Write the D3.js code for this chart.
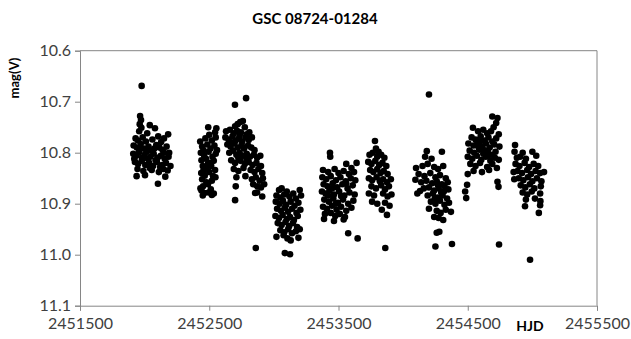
<!DOCTYPE html>
<html><head><meta charset="utf-8">
<script src="https://cdn.jsdelivr.net/npm/d3@7/dist/d3.min.js"></script>
<style>body{margin:0;background:#fff}svg{display:block}text{font-family:Lato,"Open Sans",sans-serif}</style>
</head><body>
<script>
const title = "GSC 08724-01284";
const xLabel = "HJD";
const yLabel = "mag(V)";
const xTicks = [2451500, 2452500, 2453500, 2454500, 2455500];
const yTicks = [10.6, 10.7, 10.8, 10.9, 11.0, 11.1];

const season1 = [[2451977,10.669],[2451965,10.728],[2451972,10.736],[2451962,10.744],[2451975,10.751],[2451958,10.758],
[2452040,10.746],[2452080,10.752],[2452182,10.764],[2452020,10.762],[2452105,10.768],
[2451930,10.772],[2451948,10.776],[2451985,10.770],[2452010,10.778],[2452060,10.774],[2452128,10.779],[2452150,10.772],
[2451915,10.786],[2451940,10.790],[2451970,10.783],[2451995,10.792],[2452030,10.788],[2452050,10.796],[2452090,10.785],[2452115,10.790],[2452140,10.795],[2452170,10.788],[2452190,10.800],
[2451912,10.802],[2451935,10.806],[2451955,10.800],[2451980,10.810],[2452000,10.804],[2452025,10.812],[2452045,10.808],[2452070,10.802],[2452100,10.810],[2452125,10.806],[2452155,10.812],[2452185,10.808],
[2451925,10.818],[2451950,10.822],[2451978,10.816],[2452005,10.824],[2452035,10.820],[2452065,10.826],[2452095,10.818],[2452135,10.824],[2452165,10.820],[2452200,10.826],
[2451945,10.832],[2451990,10.836],[2452055,10.834],[2452110,10.838],[2452145,10.832],[2452178,10.835],
[2451938,10.846],[2452003,10.844],[2452160,10.847],[2452103,10.861],
[2451960,10.795],[2452015,10.798],[2452085,10.815],[2452120,10.828],[2452075,10.792],[2451920,10.812],[2452150,10.800],[2452040,10.830]];

const season2 = [[2452492,10.750],[2452555,10.752],[2452545,10.760],[2452500,10.765],
[2452430,10.778],[2452470,10.772],[2452520,10.776],[2452550,10.770],
[2452445,10.788],[2452485,10.784],[2452510,10.792],[2452540,10.786],[2452560,10.795],
[2452435,10.800],[2452460,10.805],[2452495,10.798],[2452525,10.808],[2452550,10.802],
[2452440,10.815],[2452475,10.812],[2452505,10.820],[2452535,10.816],
[2452450,10.826],[2452480,10.830],[2452515,10.826],[2452545,10.834],
[2452438,10.840],[2452465,10.845],[2452500,10.838],[2452530,10.846],
[2452445,10.852],[2452478,10.858],[2452520,10.855],[2452548,10.848],
[2452452,10.866],[2452490,10.862],[2452432,10.870],[2452512,10.872],
[2452440,10.874],[2452462,10.879],[2452495,10.878],[2452535,10.880],[2452450,10.884],[2452520,10.883],
[2452455,10.795],[2452490,10.822],[2452455,10.835]];

const season3 = [[2452699,10.706],[2452785,10.693],[2452860,10.987],
[2452740,10.740],[2452720,10.744],[2452760,10.738],[2452700,10.748],[2452775,10.750],
[2452630,10.758],[2452660,10.755],[2452690,10.762],[2452715,10.757],[2452745,10.760],[2452790,10.764],[2452810,10.760],
[2452625,10.770],[2452650,10.774],[2452680,10.768],[2452705,10.776],[2452730,10.772],[2452755,10.778],[2452780,10.770],[2452805,10.775],[2452830,10.770],
[2452640,10.784],[2452665,10.788],[2452695,10.782],[2452720,10.790],[2452750,10.785],[2452770,10.792],[2452800,10.786],[2452825,10.790],[2452850,10.795],
[2452655,10.800],[2452685,10.796],[2452710,10.804],[2452735,10.800],[2452762,10.806],[2452790,10.802],[2452815,10.808],[2452845,10.804],[2452870,10.810],[2452895,10.806],
[2452670,10.815],[2452700,10.820],[2452742,10.816],[2452775,10.822],[2452805,10.818],[2452835,10.824],[2452865,10.820],[2452900,10.826],
[2452690,10.832],[2452725,10.836],[2452765,10.830],[2452820,10.834],[2452850,10.838],[2452880,10.832],[2452910,10.840],
[2452710,10.848],[2452780,10.846],[2452830,10.852],[2452860,10.848],[2452890,10.855],[2452915,10.850],
[2452705,10.866],[2452840,10.862],[2452870,10.866],[2452900,10.868],[2452925,10.862],
[2452700,10.893],[2452855,10.879],[2452910,10.886],[2452870,10.878],
[2452735,10.766],[2452765,10.790],[2452725,10.810],[2452680,10.780],[2452790,10.812]];

const season4 = [[2453040,10.873],[2453060,10.870],[2453100,10.876],[2453200,10.873],[2453150,10.880],
[2453020,10.884],[2453050,10.888],[2453080,10.882],[2453120,10.886],[2453170,10.890],[2453210,10.884],
[2453015,10.896],[2453045,10.900],[2453070,10.894],[2453095,10.902],[2453130,10.896],[2453160,10.904],[2453190,10.898],
[2453025,10.910],[2453055,10.914],[2453085,10.908],[2453110,10.916],[2453140,10.910],[2453175,10.918],[2453205,10.912],
[2453012,10.924],[2453040,10.928],[2453068,10.922],[2453100,10.930],[2453125,10.926],[2453155,10.932],[2453185,10.924],
[2453030,10.938],[2453060,10.942],[2453090,10.936],[2453118,10.944],[2453148,10.938],[2453180,10.946],
[2453050,10.952],[2453080,10.956],[2453110,10.950],[2453140,10.958],[2453170,10.954],[2453200,10.950],
[2453020,10.965],[2453075,10.962],[2453105,10.968],[2453190,10.967],[2453130,10.972],
[2453085,10.997],[2453125,10.999]];

const season5 = [[2453434,10.800],[2453436,10.808],
[2453560,10.822],[2453640,10.820],[2453600,10.830],
[2453380,10.834],[2453420,10.838],[2453470,10.832],[2453500,10.840],[2453540,10.836],[2453580,10.842],[2453620,10.838],
[2453375,10.848],[2453405,10.852],[2453440,10.846],[2453480,10.854],[2453515,10.848],[2453555,10.856],[2453595,10.850],[2453630,10.854],
[2453385,10.862],[2453415,10.866],[2453455,10.860],[2453490,10.868],[2453530,10.862],[2453570,10.870],[2453610,10.864],
[2453372,10.876],[2453400,10.880],[2453430,10.874],[2453465,10.882],[2453505,10.876],[2453545,10.884],[2453585,10.878],[2453625,10.882],
[2453390,10.892],[2453425,10.896],[2453460,10.890],[2453495,10.898],[2453535,10.892],[2453575,10.900],[2453615,10.894],
[2453380,10.906],[2453410,10.910],[2453450,10.904],[2453485,10.912],[2453520,10.906],[2453560,10.914],[2453600,10.908],
[2453395,10.920],[2453440,10.918],[2453475,10.924],[2453510,10.920],[2453550,10.926],
[2453388,10.930],[2453465,10.934],[2453540,10.931],
[2453575,10.958],[2453648,10.968],
[2453450,10.870],[2453520,10.885],[2453480,10.900],[2453420,10.884],[2453560,10.860]];

const season6 = [[2453782,10.777],[2453790,10.792],[2453810,10.798],
[2453740,10.804],[2453765,10.800],[2453800,10.808],[2453830,10.804],[2453855,10.810],
[2453730,10.818],[2453755,10.822],[2453785,10.816],[2453815,10.824],[2453840,10.820],[2453870,10.826],
[2453745,10.834],[2453770,10.838],[2453800,10.832],[2453825,10.840],[2453850,10.836],[2453880,10.842],
[2453735,10.850],[2453760,10.854],[2453795,10.848],[2453820,10.856],[2453845,10.852],[2453875,10.858],[2453905,10.852],
[2453755,10.866],[2453790,10.870],[2453830,10.864],[2453860,10.872],[2453890,10.866],
[2453735,10.880],[2453775,10.884],[2453845,10.880],[2453880,10.886],[2453910,10.882],
[2453760,10.896],[2453800,10.900],[2453860,10.898],[2453895,10.904],
[2453835,10.912],[2453875,10.922],
[2453862,10.987]];

const season7 = [[2454200,10.686],
[2454183,10.797],[2454300,10.798],[2454170,10.808],[2454220,10.812],
[2454100,10.830],[2454150,10.826],[2454190,10.822],[2454240,10.828],[2454270,10.832],[2454310,10.826],
[2454120,10.842],[2454165,10.846],[2454210,10.840],[2454250,10.848],[2454285,10.844],[2454330,10.850],
[2454095,10.853],[2454140,10.858],[2454180,10.855],[2454225,10.860],[2454260,10.856],[2454300,10.862],[2454345,10.858],
[2454160,10.870],[2454200,10.868],[2454240,10.874],[2454275,10.870],[2454315,10.876],[2454350,10.872],
[2454131,10.875],[2454110,10.880],[2454190,10.884],[2454230,10.880],[2454265,10.888],[2454305,10.884],[2454340,10.890],
[2454215,10.896],[2454250,10.900],[2454285,10.894],[2454320,10.902],[2454355,10.898],
[2454200,10.910],[2454260,10.914],[2454290,10.918],[2454370,10.916],[2454330,10.912],
[2454275,10.928],[2454310,10.932],[2454240,10.926],
[2454260,10.957],[2454280,10.955],[2454250,10.984],[2454378,10.979],
[2454270,10.864],[2454295,10.878],[2454245,10.890],[2454320,10.866]];

const season8 = [[2454690,10.729],[2454730,10.732],[2454720,10.742],[2454540,10.751],[2454700,10.750],
[2454580,10.758],[2454620,10.755],[2454650,10.762],[2454680,10.758],[2454740,10.764],
[2454530,10.770],[2454560,10.774],[2454600,10.768],[2454630,10.776],[2454660,10.770],[2454690,10.778],[2454720,10.772],
[2454505,10.782],[2454545,10.786],[2454575,10.780],[2454610,10.788],[2454640,10.782],[2454670,10.790],[2454705,10.784],[2454745,10.788],
[2454515,10.796],[2454550,10.800],[2454590,10.794],[2454620,10.802],[2454655,10.796],[2454685,10.804],[2454715,10.798],
[2454500,10.808],[2454535,10.812],[2454570,10.806],[2454605,10.814],[2454640,10.808],[2454675,10.816],[2454710,10.810],[2454740,10.814],
[2454520,10.822],[2454560,10.826],[2454595,10.820],[2454650,10.828],[2454690,10.822],[2454725,10.830],
[2454545,10.836],[2454610,10.838],[2454665,10.834],
[2454500,10.842],[2454495,10.863],[2454480,10.876],[2454488,10.889],
[2454730,10.857],[2454738,10.867],
[2454742,10.980],
[2454585,10.790],[2454625,10.795],[2454660,10.805],[2454595,10.778]];

const season9 = [[2454866,10.785],[2454862,10.798],[2454925,10.800],[2455000,10.798],
[2454880,10.810],[2454950,10.812],[2455030,10.806],[2454905,10.808],
[2454870,10.822],[2454900,10.826],[2454940,10.820],[2454975,10.828],[2455010,10.822],[2455045,10.826],
[2454885,10.836],[2454920,10.840],[2454960,10.834],[2454990,10.842],[2455025,10.836],[2455060,10.840],[2455090,10.838],
[2454895,10.850],[2454930,10.854],[2454965,10.848],[2455000,10.856],[2455035,10.850],[2455070,10.856],
[2454910,10.864],[2454945,10.868],[2454980,10.862],[2455015,10.870],[2455065,10.866],
[2454855,10.838],[2454860,10.852],
[2454925,10.878],[2454960,10.882],[2454995,10.876],[2455060,10.880],
[2454950,10.892],[2455020,10.890],[2455062,10.895],
[2454943,10.905],[2455060,10.903],[2455050,10.918],
[2454982,11.010]];

const seasons = [season1, season2, season3, season4, season5, season6, season7, season8, season9];

const W = 631, H = 339;
const m = {left: 80, right: 34, top: 50.7, bottom: 33.3};
const svg = d3.select("body").append("svg").attr("width", W).attr("height", H);

const x = d3.scaleLinear().domain([2451500, 2455500]).range([m.left, W - m.right]);
const y = d3.scaleLinear().domain([10.6, 11.1]).range([m.top, H - m.bottom]);

const axisColor = "#868686";
const textColor = "#404040";

svg.append("line").attr("x1", x(2451500)).attr("x2", x(2455500)).attr("y1", y(10.6)).attr("y2", y(10.6))
  .attr("stroke", axisColor).attr("stroke-width", 1);
svg.append("line").attr("x1", x(2455500)).attr("x2", x(2455500)).attr("y1", y(10.6)).attr("y2", y(11.1))
  .attr("stroke", axisColor).attr("stroke-width", 1);

const gx = svg.append("g").attr("transform", `translate(0,${y(11.1)})`)
  .call(d3.axisBottom(x).tickValues(xTicks).tickFormat(d3.format("d")).tickSizeOuter(0).tickSize(5).tickPadding(7));
const gy = svg.append("g").attr("transform", `translate(${x(2451500)},0)`)
  .call(d3.axisLeft(y).tickValues(yTicks).tickFormat(d3.format(".1f")).tickSizeOuter(0).tickSize(5).tickPadding(4));
[gx, gy].forEach(g => {
  g.select(".domain").attr("stroke", axisColor);
  g.selectAll(".tick line").attr("stroke", axisColor);
  g.selectAll(".tick text").attr("fill", textColor).style("font-size", "16px").style("font-family", "Lato, 'Open Sans', sans-serif");
});

const pts = seasons.flat();
svg.append("g").selectAll("circle").data(pts).join("circle")
  .attr("cx", d => x(d[0])).attr("cy", d => y(d[1])).attr("r", 3.3).attr("fill", "#000");

svg.append("text").attr("x", 315).attr("y", 24).attr("text-anchor", "middle")
  .style("font-size", "15px").style("font-weight", "bold").attr("fill", "#000").text(title);
svg.append("text").attr("transform", "translate(19,78) rotate(-90)").attr("text-anchor", "middle")
  .style("font-size", "13px").style("font-weight", "bold").attr("fill", "#000").text(yLabel);
svg.append("text").attr("x", 530).attr("y", 331).attr("text-anchor", "middle")
  .style("font-size", "14px").style("font-weight", "bold").attr("fill", "#000").text(xLabel);
</script>
</body></html>
